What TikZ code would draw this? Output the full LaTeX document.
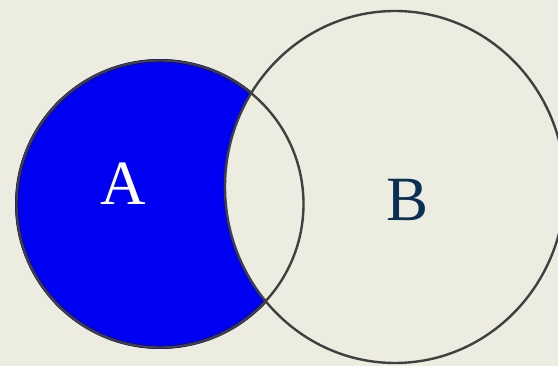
\documentclass[tikz,border=0pt]{standalone}
\usepackage{fontspec}
\setmainfont{Liberation Serif}
\definecolor{paper}{HTML}{ECECE0}
\definecolor{setblue}{HTML}{0000F2}
\definecolor{navy}{HTML}{0A2F55}
\begin{document}
\begin{tikzpicture}[x=1pt,y=-1pt,
  rim/.style={draw=black!75,line width=2.4pt},
  setlabel/.style={anchor=base,inner sep=0pt,font=\fontsize{63}{63}\selectfont}]
\useasboundingbox (0,0) rectangle (558,366);
\fill[paper] (0,0) rectangle (558,366);
\coordinate (cA) at (160,204);
\coordinate (cB) at (395,187);
\fill[setblue] (cA) circle[radius=143.5pt];
\draw[line width=3pt,draw=black!60!blue] (cA) circle[radius=143.5pt];
\fill[paper] (cB) ellipse[x radius=170pt,y radius=176pt];
\draw[rim] (cA) circle[radius=143.5pt];
\draw[rim] (cB) ellipse[x radius=170pt,y radius=176pt];
\node[setlabel,text=white] (labA) at (123,205) {A};
\node[setlabel,text=navy] (labB) at (408,221) {B};
\end{tikzpicture}
\end{document}
